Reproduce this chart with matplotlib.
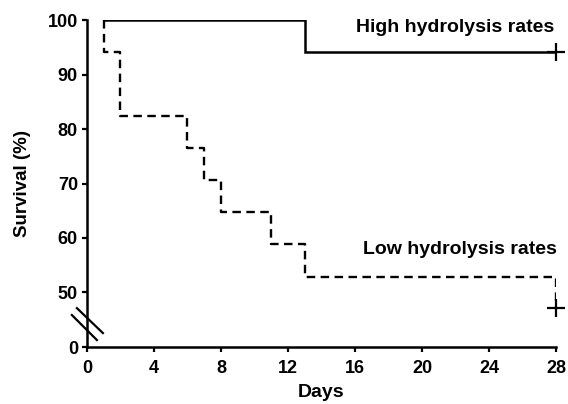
import numpy as np
import matplotlib
matplotlib.use("Agg")
import matplotlib.pyplot as plt

plt.rcParams['font.family'] = ['Liberation Sans', 'DejaVu Sans']
plt.rcParams['font.weight'] = 'bold'

# Data
high_days = [1, 13, 28]
high_surv = [100, 94.1, 94.1]
low_days = [1, 1, 2, 6, 7, 8, 11, 13, 28]
low_surv = [100, 94.1, 82.4, 76.5, 70.6, 64.7, 58.8, 52.9, 47.1]
censor_days = [28, 28]
censor_surv = [94.1, 47.1]
x_ticks = [0, 4, 8, 12, 16, 20, 24, 28]
y_ticks = [0, 50, 60, 70, 80, 90, 100]
high_label = "High hydrolysis rates"
low_label = "Low hydrolysis rates"

# broken axis: 0..40 compressed to nearly nothing
def fwd(y):
    y = np.asarray(y, dtype=float)
    return np.where(y >= 40, y - 40, (y - 40) * 0.001)

def inv(p):
    p = np.asarray(p, dtype=float)
    return np.where(p >= 0, p + 40, p / 0.001 + 40)

fig = plt.figure(figsize=(5.68, 4.04), dpi=100)
ax = fig.add_axes([0.153, 0.141, 0.826, 0.809])
ax.set_yscale('function', functions=(fwd, inv))

ax.step(high_days, high_surv, where='post', color='black', lw=1.8, solid_joinstyle='miter')
ax.step(low_days, low_surv, where='post', color='black', lw=1.7,
        linestyle=(0, (3.6, 2.3)))
ax.plot(censor_days, censor_surv, linestyle='none', marker='+', color='black',
        markersize=13, markeredgewidth=1.6, clip_on=False, zorder=5)

ax.set_xlim(0, 28)
ax.set_ylim(0, 100)
ax.set_xticks(x_ticks)
ax.set_yticks(y_ticks)
ax.set_xticklabels([str(t) for t in x_ticks])
ax.set_yticklabels([str(t) for t in y_ticks])
ax.minorticks_off()

for s in ['top', 'right']:
    ax.spines[s].set_visible(False)
for s in ['left', 'bottom']:
    ax.spines[s].set_linewidth(1.8)
ax.tick_params(axis='both', direction='out', length=3.5, width=1.6,
               labelsize=13, pad=3)
ax.tick_params(axis='x', pad=6)
for lab in ax.get_xticklabels() + ax.get_yticklabels():
    lab.set_fontweight('bold')

ax.set_xlabel("Days", fontsize=14, fontweight='bold', labelpad=5)
ax.set_ylabel("Survival (%)", fontsize=13.5, fontweight='bold', labelpad=12)

ax.text(27.9, 98.6, high_label, ha='right', va='center', fontsize=14, fontweight='bold')
ax.text(28.05, 57.8, low_label, ha='right', va='center', fontsize=14, fontweight='bold')

# break marks on y axis (axes coordinates)
ax.plot([-0.0213, 0.0341], [0.119, 0.0428], transform=ax.transAxes,
        color='black', lw=1.6, clip_on=False)
ax.plot([-0.032, 0.0213], [0.0979, 0.0214], transform=ax.transAxes,
        color='black', lw=1.6, clip_on=False)

fig.savefig("out.png", dpi=100)
